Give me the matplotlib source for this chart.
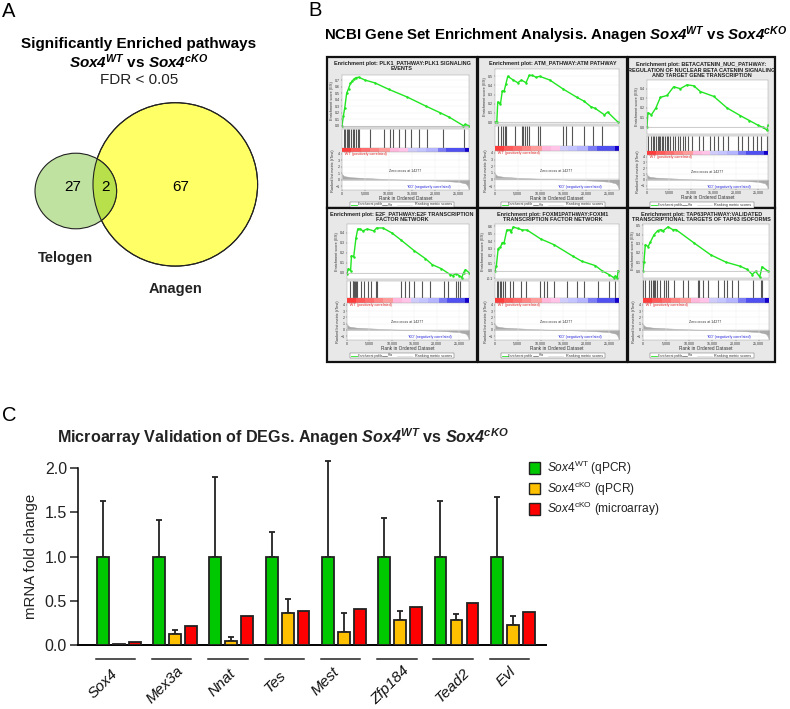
import matplotlib
matplotlib.use("Agg")
import matplotlib.pyplot as plt
from matplotlib.patches import Ellipse, Rectangle

plt.rcParams['font.family'] = ['Liberation Sans', 'DejaVu Sans']
plt.rcParams['mathtext.fontset'] = 'custom'
plt.rcParams['mathtext.rm'] = 'Liberation Sans'
plt.rcParams['mathtext.it'] = 'Liberation Sans:italic'
plt.rcParams['mathtext.bf'] = 'Liberation Sans:bold'
plt.rcParams['mathtext.bfit'] = 'Liberation Sans:italic:bold'

W, H = 790, 709

# venn counts
telogen_only = 27
shared = 2
anagen_only = 67

# qPCR validation
genes = ["Sox4", "Mex3a", "Nnat", "Tes", "Mest", "Zfp184", "Tead2", "Evl"]
wt_qpcr = [1.0, 1.0, 1.0, 1.0, 1.0, 1.0, 1.0, 1.0]
wt_err = [0.63, 0.41, 0.90, 0.28, 1.08, 0.44, 0.63, 0.67]
cko_qpcr = [0.01, 0.13, 0.05, 0.36, 0.15, 0.28, 0.28, 0.23]
cko_err = [0.0, 0.04, 0.04, 0.16, 0.21, 0.11, 0.07, 0.10]
cko_array = [0.03, 0.22, 0.33, 0.39, 0.41, 0.43, 0.47, 0.37]

# gene label centres, the labels are not evenly placed in the original
label_x = [103, 165, 222, 275, 325, 390, 453, 506]
label_y = [684, 685, 683, 682, 681, 685, 685, 677]

# GSEA panels
titles = [
    "Enrichment plot: PLK1_PATHWAY:PLK1 SIGNALING\nEVENTS",
    "Enrichment plot: ATM_PATHWAY:ATM PATHWAY",
    "Enrichment plot: BETACATENIN_NUC_PATHWAY:\nREGULATION OF NUCLEAR BETA CATENIN SIGNALING\nAND TARGET GENE TRANSCRIPTION",
    "Enrichment plot: E2F_PATHWAY:E2F TRANSCRIPTION\nFACTOR NETWORK",
    "Enrichment plot: FOXM1PATHWAY:FOXM1\nTRANSCRIPTION FACTOR NETWORK",
    "Enrichment plot: TAP63PATHWAY:VALIDATED\nTRANSCRIPTIONAL TARGETS OF TAP63 ISOFORMS",
]
n_genes = [40, 32, 74, 67, 39, 48]
fdr = ["0.000", "0.120", "0.102", "0.104", "0.020", "0.106"]

es1_x = [0, 0.3, 0.6, 1, 1.4, 1.8, 2.2, 2.6, 3, 3.6, 5, 7, 10, 14, 18, 21, 23, 26, 26.4, 27.2]
es1_y = [0, 0.15, 0.28, 0.5, 0.57, 0.65, 0.69, 0.72, 0.74, 0.745, 0.7, 0.66, 0.56, 0.44, 0.3, 0.2, 0.13, 0.0, 0.02, 0.0]
es2_x = [0, 0.4, 0.6, 1.2, 1.6, 2, 2.4, 2.8, 4, 5, 5.8, 6.8, 7.5, 8.2, 9, 9.8, 12, 15, 18, 19.5, 21, 22, 24, 24.7, 27]
es2_y = [0, 0, 0.22, 0.2, 0.34, 0.34, 0.42, 0.5, 0.46, 0.43, 0.46, 0.43, 0.51, 0.51, 0.49, 0.5, 0.46, 0.36, 0.27, 0.23, 0.17, 0.15, 0.08, 0.11, 0]
es3_x = [0, 0.2, 1, 2, 3, 4.5, 6, 7.5, 9, 10.5, 12, 15, 18, 21, 23, 25, 26, 27, 27.2]
es3_y = [0, 0.15, 0.13, 0.2, 0.31, 0.33, 0.42, 0.4, 0.44, 0.43, 0.37, 0.32, 0.2, 0.12, 0.07, 0.02, 0.0, -0.03, 0.02]
es4_x = [0, 0.3, 0.8, 1, 1.5, 2, 2.4, 3, 3.5, 4.5, 6, 6.6, 8, 10, 12, 15, 17.5, 19, 21, 23, 23.6, 24.3, 25, 25.6, 26, 26.4, 27.2]
es4_y = [-0.01, 0.04, 0.02, 0.17, 0.16, 0.35, 0.44, 0.44, 0.42, 0.44, 0.42, 0.45, 0.45, 0.4, 0.33, 0.22, 0.14, 0.08, 0.04, -0.02, -0.03, -0.01, -0.03, -0.05, 0.0, 0.03, 0.0]
es5_x = [0, 0.3, 0.7, 1.2, 1.6, 2, 2.6, 3.3, 3.5, 4, 5, 6, 7, 10, 13, 17, 19, 22, 23.5, 25, 26, 26.4, 26.8, 27]
es5_y = [0, 0.07, 0.3, 0.32, 0.38, 0.38, 0.55, 0.55, 0.52, 0.59, 0.57, 0.55, 0.55, 0.43, 0.35, 0.2, 0.13, 0.07, 0.0, -0.05, -0.09, -0.07, -0.1, 0.0]
es6_x = [0, 0.2, 0.5, 1.1, 1.6, 2.4, 3.2, 3.9, 4.3, 5.4, 6.4, 7.1, 11, 14.6, 17.9, 21, 22.5, 23.6, 24.3, 25.2, 25.7, 27]
es6_y = [0, 0.1, 0.29, 0.27, 0.32, 0.4, 0.445, 0.455, 0.44, 0.485, 0.455, 0.455, 0.31, 0.18, 0.1, 0.055, 0.02, -0.035, 0, -0.06, 0.05, 0]
es_x = [es1_x, es2_x, es3_x, es4_x, es5_x, es6_x]
es_y = [es1_y, es2_y, es3_y, es4_y, es5_y, es6_y]

es_limits = [(-0.02, 0.78), (-0.02, 0.58), (-0.07, 0.49), (-0.065, 0.49), (-0.11, 0.63), (-0.073, 0.516)]
es_ticks = [
    [0, 0.1, 0.2, 0.3, 0.4, 0.5, 0.6, 0.7],
    [0, 0.1, 0.2, 0.3, 0.4, 0.5],
    [0, 0.1, 0.2, 0.3, 0.4],
    [0, 0.1, 0.2, 0.3, 0.4],
    [-0.1, 0, 0.1, 0.2, 0.3, 0.4, 0.5, 0.6],
    [0, 0.1, 0.2, 0.3, 0.4, 0.5],
]

hits1 = [0.4, 0.7, 1, 1.3, 1.6, 2, 2.4, 2.6, 2.9, 3.4, 3.6, 6.1, 9.1, 10.2, 11, 12.2, 13.4, 14.7, 16.4, 18.1, 21.7, 26.1]
hits2 = [0.6, 1.4, 1.8, 2.1, 2.5, 4.4, 5.9, 6.2, 6.6, 7, 7.5, 9.5, 9.8, 15, 15.6, 16.8, 19.5, 21.4, 23.4]
hits3 = [0.2, 0.9, 1.3, 1.6, 2.1, 2.4, 2.7, 3, 3.4, 3.7, 4.1, 4.4, 4.8, 5.2, 5.8, 6.3, 6.9, 7.4, 8.1, 8.6, 9.2, 10.1, 11.7, 12.5, 14.2, 15, 15.9, 17.1, 18.2, 20.4, 21.3, 22.8, 23.9, 24.7, 25.6, 26.9]
hits4 = [0.7, 1.3, 1.4, 1.6, 1.8, 2, 2.2, 3.2, 3.8, 4.6, 5.4, 6.4, 6.6, 12.1, 12.9, 13.8, 15, 16.8, 18.4, 21.6, 22.6, 24.3, 24.8, 25.2]
hits5 = [0.4, 0.7, 1.1, 1.4, 1.8, 2.1, 3.2, 3.9, 5.7, 6.8, 9.9, 10.7, 11.4, 12.9, 15.7, 18, 19.6, 22.5, 25.1, 26.3]
hits6 = [0.1, 0.5, 1.4, 1.8, 2.1, 2.4, 2.6, 3.1, 3.6, 4.5, 5, 5.4, 6.6, 8.6, 9.8, 11.8, 12.1, 12.9, 14, 16.2, 17.5, 18.2, 19.3, 20.4, 23.8, 25.4, 25.6]
hits = [hits1, hits2, hits3, hits4, hits5, hits6]

# ranked list metric, shared between panels
rank_x = [0, 0.1, 0.5, 2, 5, 8, 11, 14.3, 18, 22, 25, 26.5, 27, 27.2]
rank_y = [1.0, 0.8, 0.55, 0.38, 0.26, 0.16, 0.07, 0, -0.08, -0.2, -0.35, -0.6, -1.1, -1.5]

# phenotype bar
bar_edges = [0, 2, 4, 6, 8, 10.3, 12.3, 14.2, 16, 18, 20.5, 22.3, 26.3, 27.2]
bar_colors = ['#ff3c3c', '#ff5a5a', '#ff6e6e', '#ff8484', '#ff9c9c', '#ffb8dc', '#ffc4e8',
              '#d0ccfa', '#c4c4ff', '#b4b4ff', '#7c7cf4', '#5050f0', '#1400c8']

# pixel boxes of each GSEA panel: left, right, title y, es top, es bottom, hits bottom, bar bottom, rank bottom, legend y
panel_boxes = [
    (342, 469, 66, 75, 127, 148, 152, 190, 204.5),
    (495, 619, 63, 69, 124, 146, 151, 190, 204.5),
    (647, 768, 70, 80, 134, 151, 155, 189, 205),
    (347, 469, 217, 224, 279, 298, 303, 340, 355.5),
    (495, 619, 217, 224, 279, 298, 303, 340, 355.5),
    (643, 769, 217, 224, 278, 298, 303, 340, 355.5),
]
cell_boxes = [(327, 477, 57, 208), (478, 627, 57, 208), (628, 775, 57, 208),
              (327, 477, 208, 362), (478, 627, 208, 362), (628, 775, 208, 362)]

fig = plt.figure(figsize=(W / 100, H / 100), dpi=100)


def px_axes(left, top, right, bottom, **kw):
    return fig.add_axes([left / W, 1 - bottom / H, (right - left) / W, (bottom - top) / H], **kw)


def thin_spines(ax):
    for s in ax.spines.values():
        s.set_linewidth(0.3)
        s.set_color('#999999')


# full page overlay, in pixels
page = px_axes(0, 0, W, H)
page.set_xlim(0, W)
page.set_ylim(H, 0)
page.axis('off')

page.text(2, 17, "A", fontsize=14.5, va='baseline')
page.text(308, 16, "B", fontsize=14.5, va='baseline')
page.text(2, 421, "C", fontsize=14.5, va='baseline')

# panel A
page.text(139, 44, "Significantly Enriched pathways", fontsize=11, fontweight='bold', ha='center', va='center')
page.text(139, 62, r"$\mathbfit{Sox4}^{\mathbfit{WT}}$ vs $\mathbfit{Sox4}^{\mathbfit{cKO}}$",
          fontsize=11, fontweight='bold', ha='center', va='center')
page.text(139, 80, "FDR < 0.05", fontsize=11, ha='center', va='center', color='#222222')

page.add_patch(Ellipse((175.3, 184.4), 164.6, 163.4, fc='#ffff66', ec='#222222', lw=0.8))
page.add_patch(Ellipse((75.8, 191), 81.6, 75.6, fc='#c0e2a0', ec='#222222', lw=0.8))
overlap = Ellipse((75.8, 191), 81.6, 75.6, fc='#b8e04a', ec='#222222', lw=0.8)
page.add_patch(overlap)
overlap.set_clip_path(Ellipse((175.3, 184.4), 164.6, 163.4, transform=page.transData))
page.add_patch(Ellipse((175.3, 184.4), 164.6, 163.4, fc='none', ec='#222222', lw=0.8))
page.text(73, 187, str(telogen_only), fontsize=11, ha='center', va='center')
page.text(106, 187, str(shared), fontsize=11, ha='center', va='center')
page.text(181, 187, str(anagen_only), fontsize=11, ha='center', va='center')
page.text(65, 258, "Telogen", fontsize=10.5, fontweight='bold', ha='center', va='center', color='#222222')
page.text(176, 289, "Anagen", fontsize=10.5, fontweight='bold', ha='center', va='center', color='#222222')

# panel B
page.text(556, 35, r"NCBI Gene Set Enrichment Analysis. Anagen "
          r"$\mathbfit{Sox4}^{\mathbfit{WT}}$ vs $\mathbfit{Sox4}^{\mathbfit{cKO}}$",
          fontsize=10.8, fontweight='bold', ha='center', va='center')

for (l, r, t, b) in cell_boxes:
    page.add_patch(Rectangle((l, t), r - l, b - t, fc='#e8e8e8', ec='#111111', lw=1.6))

for i, box in enumerate(panel_boxes):
    left, right, title_y, es_top, es_bottom, hits_bottom, bar_bottom, rank_bottom, leg_y = box
    cell = cell_boxes[i]
    cx = (cell[0] + cell[1]) / 2
    page.text(cx, title_y, titles[i], fontsize=4.0, fontweight='bold', ha='center', va='center',
              linespacing=1.15, color='#222222', zorder=5)

    ax = px_axes(left, es_top, right, es_bottom)
    ax.plot(es_x[i], es_y[i], color='#22e622', lw=1.0, marker='o', ms=0.8)
    ax.axhline(0, color='#bbbbbb', lw=0.5)
    ax.set_xlim(0, 27.2)
    ax.set_ylim(*es_limits[i])
    ax.set_xticks([])
    ax.set_yticks(es_ticks[i])
    ax.set_yticklabels([f"{v:.1f}" for v in es_ticks[i]])
    ax.tick_params(labelsize=2.6, length=1, width=0.3, pad=0.6, colors='#333333')
    ax.grid(True, color='#eeeeee', lw=0.3)
    ax.set_ylabel("Enrichment score (ES)", fontsize=2.8, labelpad=0.8, color='#333333')
    thin_spines(ax)

    ax = px_axes(left, es_bottom + 2, right, hits_bottom)
    ax.vlines(hits[i], 0, 1, color='#555555', lw=0.8)
    ax.set_xlim(0, 27.2)
    ax.set_ylim(0, 1)
    ax.set_xticks([])
    ax.set_yticks([])
    thin_spines(ax)

    ax = px_axes(left, hits_bottom, right, bar_bottom)
    for j, c in enumerate(bar_colors):
        ax.axvspan(bar_edges[j], bar_edges[j + 1], color=c, lw=0)
    ax.set_xlim(0, 27.2)
    ax.axis('off')

    ax = px_axes(left, bar_bottom, right, rank_bottom)
    ax.fill_between(rank_x, rank_y, 0, color='#aaaaaa', lw=0.3)
    ax.axhline(0, color='#cccccc', lw=0.3)
    ax.set_xlim(0, 27.2)
    ax.set_ylim(-1.6, 4.3)
    ax.set_xticks([0, 5, 10, 15, 20, 25])
    ax.set_xticklabels(["0", "5,000", "10,000", "15,000", "20,000", "25,000"])
    ax.set_yticks([-1, 0, 1, 2, 3, 4])
    ax.tick_params(labelsize=2.6, length=0.8, width=0.3, pad=0.5, colors='#333333')
    ax.grid(True, color='#eeeeee', lw=0.3)
    ax.set_xlabel("Rank in Ordered Dataset", fontsize=3.4, labelpad=0.3, color='#333333')
    ax.set_ylabel("Ranked list metric (tTest)", fontsize=2.8, labelpad=0.8, color='#333333')
    ax.text(0.4, 3.95, "'WT' (positively correlated)", fontsize=2.6, color='#e02020', va='center')
    ax.text(13.5, 1.3, "Zero cross at 14277", fontsize=2.6, color='#333333', ha='center', va='center')
    ax.text(18.5, -1.2, "'KO' (negatively correlated)", fontsize=2.6, color='#2222dd', ha='center', va='center')
    thin_spines(ax)

    # small legend strip below each panel
    page.add_patch(Rectangle((cx - 52, leg_y - 2.7), 104, 5.4, fc='white', ec='#555555', lw=0.3, zorder=5))
    page.plot([cx - 51, cx - 45], [leg_y, leg_y], color='#22e622', lw=0.6, zorder=6)
    page.text(cx - 44, leg_y, "Enrichment profile", fontsize=2.1, va='center', zorder=6, color='#333333')
    page.plot([cx - 20, cx - 15], [leg_y, leg_y], color='#333333', lw=0.4, zorder=6)
    page.text(cx - 14, leg_y, "Hits", fontsize=2.1, va='center', zorder=6, color='#333333')
    page.plot([cx - 5, cx + 10], [leg_y, leg_y], color='#cccccc', lw=0.4, zorder=6)
    page.text(cx + 13, leg_y, "Ranking metric scores", fontsize=2.7, va='center', zorder=6, color='#333333')

    page.text(right - 6, es_top + 10, f"N={n_genes[i]}", fontsize=6.6, ha='right', va='center', zorder=6, color='#222222')
    page.text(right - 6, es_top + 21, f"FDR={fdr[i]}", fontsize=6.6, ha='right', va='center', zorder=6, color='#222222')

# panel C
page.text(283, 437, r"Microarray Validation of DEGs. Anagen "
          r"$\mathbfit{Sox4}^{\mathbfit{WT}}$ vs $\mathbfit{Sox4}^{\mathbfit{cKO}}$",
          fontsize=11.6, fontweight='bold', ha='center', va='center', color='#222222')

ax = px_axes(78, 468.3, 546, 645)
ax.patch.set_alpha(0)
step = 0.284
width = 0.21
edge = '#222222'
for i, gene in enumerate(genes):
    ax.bar(i - step, wt_qpcr[i], width, color='#00c800', edgecolor=edge, lw=1.3, zorder=3)
    ax.bar(i, cko_qpcr[i], width, color='#ffc000', edgecolor=edge, lw=1.3, zorder=3)
    ax.bar(i + step, cko_array[i], width, color='#ff0000', edgecolor=edge, lw=1.3, zorder=3)
    ax.errorbar(i - step, wt_qpcr[i], yerr=[[0], [wt_err[i]]], color=edge, lw=1.3, capsize=2.5,
                capthick=1.3, clip_on=False, zorder=2)
    if cko_err[i] > 0:
        ax.errorbar(i, cko_qpcr[i], yerr=[[0], [cko_err[i]]], color=edge, lw=1.3, capsize=2.5,
                    capthick=1.3, clip_on=False, zorder=2)
    ax.plot([i - 0.41, i + 0.29], [-0.155, -0.155], color=edge, lw=1.1, clip_on=False)
    page.text(label_x[i], label_y[i], gene, rotation=45, ha='center', va='center',
              fontsize=11, fontstyle='italic', color='#111111')

ax.set_xlim(-0.723, 7.59)
ax.set_ylim(0, 2.0)
ax.set_xticks([])
ax.set_yticks([0, 0.5, 1.0, 1.5, 2.0])
ax.set_yticklabels(["0.0", "0.5", "1.0", "1.5", "2.0"])
ax.tick_params(axis='y', labelsize=11.5, width=1.1, length=6, pad=2, colors='#222222')
ax.set_ylabel("mRNA fold change", fontsize=10.8, labelpad=5, color='#222222')
ax.spines['top'].set_visible(False)
ax.spines['right'].set_visible(False)
ax.spines['left'].set_linewidth(1.1)
ax.spines['bottom'].set_linewidth(1.4)

legend_labels = [r"$\mathit{Sox4}^{\mathrm{WT}}$ (qPCR)", r"$\mathit{Sox4}^{\mathrm{cKO}}$ (qPCR)",
                 r"$\mathit{Sox4}^{\mathrm{cKO}}$ (microarray)"]
legend_colors = ['#00c800', '#ffc000', '#ff0000']
for k, (lab, c) in enumerate(zip(legend_labels, legend_colors)):
    y = 462 + 20.5 * k
    page.add_patch(Rectangle((528.5, y), 11.5, 11.5, fc=c, ec=edge, lw=1.0))
    page.text(547, y + 6, lab, fontsize=8.6, va='center', color='#222222')

fig.savefig("out.png", dpi=100)
